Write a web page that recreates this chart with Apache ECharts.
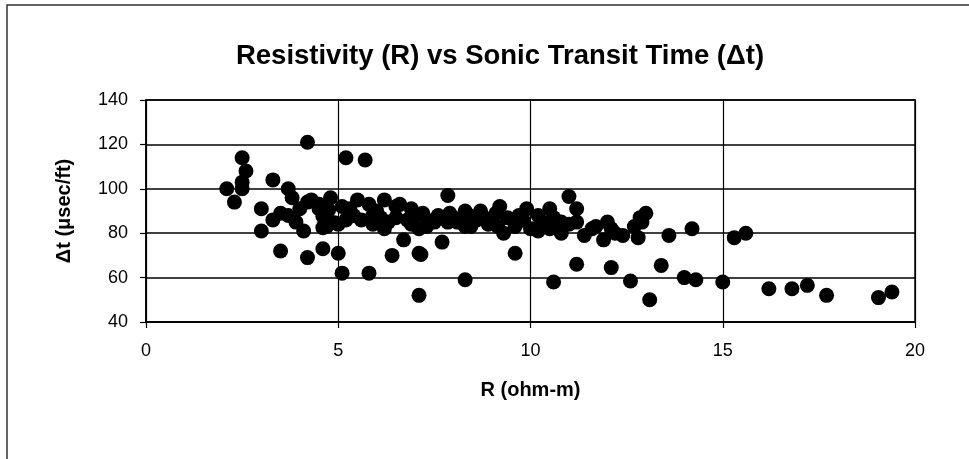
<!DOCTYPE html>
<html>
<head>
<meta charset="utf-8">
<script src="https://cdn.jsdelivr.net/npm/echarts@6/dist/echarts.min.js"></script>
<style>
html,body{margin:0;padding:0;background:#fff;}
#chart{width:969px;height:459px;}
</style>
</head>
<body>
<div id="chart"></div>
<script>
// Resistivity R (ohm-m)
const resistivity = [
  2.1,2.3,2.5,2.6,2.5,2.5,4.2,5.2,5.7,
  3.3,3.7,3.8,3.0,3.5,3.3,3.7,3.9,4.1,3.0,
  3.5,4.2,4.6,5.0,5.1,5.8,6.4,6.7,
  4.3,4.5,4.8,4.75,4.6,4.6,4.9,5.1,5.2,5.5,5.8,5.9,6.2,6.3,6.5,5.0,5.3,
  4.0,4.2,4.5,4.7,
  5.9,6.6,6.9,7.2,7.1,7.3,7.1,7.7,7.85,7.6,7.9,8.1,7.1,8.3,
  8.3,8.7,9.2,9.9,10.5,11.0,11.2,8.45,8.9,9.3,9.6,10.1,10.8,10.8,11.4,11.2,9.6,11.2,10.6,
  11.7,12.0,12.1,12.4,11.9,12.7,12.85,13.0,12.8,12.1,12.6,13.1,
  7.3,7.85,8.3,8.6,9.15,9.6,10.0,10.2,10.5,
  13.6,14.2,15.3,15.6,13.4,14.0,14.3,15.0,16.2,16.8,17.2,17.7,19.05,19.4,
  12.9,7.15,
  5.4,5.6,6.0,6.1,6.5,6.8,7.0,7.5,8.0,8.4,8.8,9.0,9.4,9.8,10.3,10.6,11.0,11.6,12.2,6.2,6.9,8.2,9.1,9.7,10.2
];
// Sonic transit time Δt (μsec/ft)
const transitTime = [
  100,94,114,108,103,100,121,114,113,
  104,100,96,91,89,86,88,85,81,81,
  72,69,73,71,62,62,70,77,
  95,93,96,90.5,87.6,82.5,84.7,92,86,95,93,88,95,85,92,84,91,
  91,94,91,83,
  84,93,91,89,82,83,71,76,97,88,89,85,52,59,
  90,90,92,91,91,96.5,91,83,84,80,83,82,85,80,79,85,71,66,58,
  83,85,82,79,77,83,87,89,78,64.5,58.5,50,
  86,85,83,86,83,85,82,81,82,
  79,82,78,80,65.5,60,59,58,55,55,56.5,52,51,53.5,
  85,70.4,
  88,86,90,87,87,86,88,85,87,88,87,86,87,86,85,87,84,82,80,82,84,86,89,88,88
];
const xTicks = [0,5,10,15,20];
const yTicks = [40,60,80,100,120,140];

const points = resistivity.map((r,i)=>[r, transitTime[i]]);
const FONT = '"Liberation Sans", Arial, Helvetica, sans-serif';

const chart = echarts.init(document.getElementById('chart'), null, {renderer:'canvas'});
chart.setOption({
  animation:false,
  backgroundColor:'#fff',
  title:{
    text:'Resistivity (R) vs Sonic Transit Time (\u0394t)',
    left:495, top:37, textAlign:'center',
    textStyle:{fontFamily:FONT, fontSize:27.5, fontWeight:'bold', color:'#000'}
  },
  graphic:[{
    type:'rect', silent:true, z:-1,
    shape:{x:7,y:5,width:1000,height:500},
    style:{fill:'none', stroke:'#333', lineWidth:1.5}
  }],
  grid:{left:146,right:54,top:100,bottom:137,show:true,borderColor:'#444',borderWidth:2,backgroundColor:'transparent'},
  xAxis:{
    type:'value', min:xTicks[0], max:xTicks[xTicks.length-1], interval:5,
    name:'R (ohm-m)', nameLocation:'middle', nameGap:58,
    nameTextStyle:{fontFamily:FONT,fontSize:20,fontWeight:'bold',color:'#000'},
    axisLine:{show:true,lineStyle:{color:'#000',width:1.5}},
    axisTick:{show:true,inside:false,length:6,lineStyle:{color:'#000',width:1.2}},
    axisLabel:{fontFamily:FONT,fontSize:18,color:'#000',margin:20},
    splitLine:{show:true,lineStyle:{color:'#000',width:1.2}}
  },
  yAxis:{
    type:'value', min:yTicks[0], max:yTicks[yTicks.length-1], interval:20,
    name:'\u0394t (\u03bcsec/ft)', nameLocation:'middle', nameGap:72, nameRotate:90,
    nameTextStyle:{fontFamily:FONT,fontSize:20,fontWeight:'bold',color:'#000'},
    axisLine:{show:true,lineStyle:{color:'#000',width:1.5}},
    axisTick:{show:true,inside:false,length:6,lineStyle:{color:'#000',width:1.2}},
    axisLabel:{fontFamily:FONT,fontSize:18,color:'#000',margin:18},
    splitLine:{show:true,lineStyle:{color:'#000',width:1.6}}
  },
  series:[{
    type:'scatter',
    data:points,
    symbol:'circle',
    symbolSize:15,
    itemStyle:{color:'#000',opacity:1},
    emphasis:{disabled:true}
  }]
});
</script>
</body>
</html>
